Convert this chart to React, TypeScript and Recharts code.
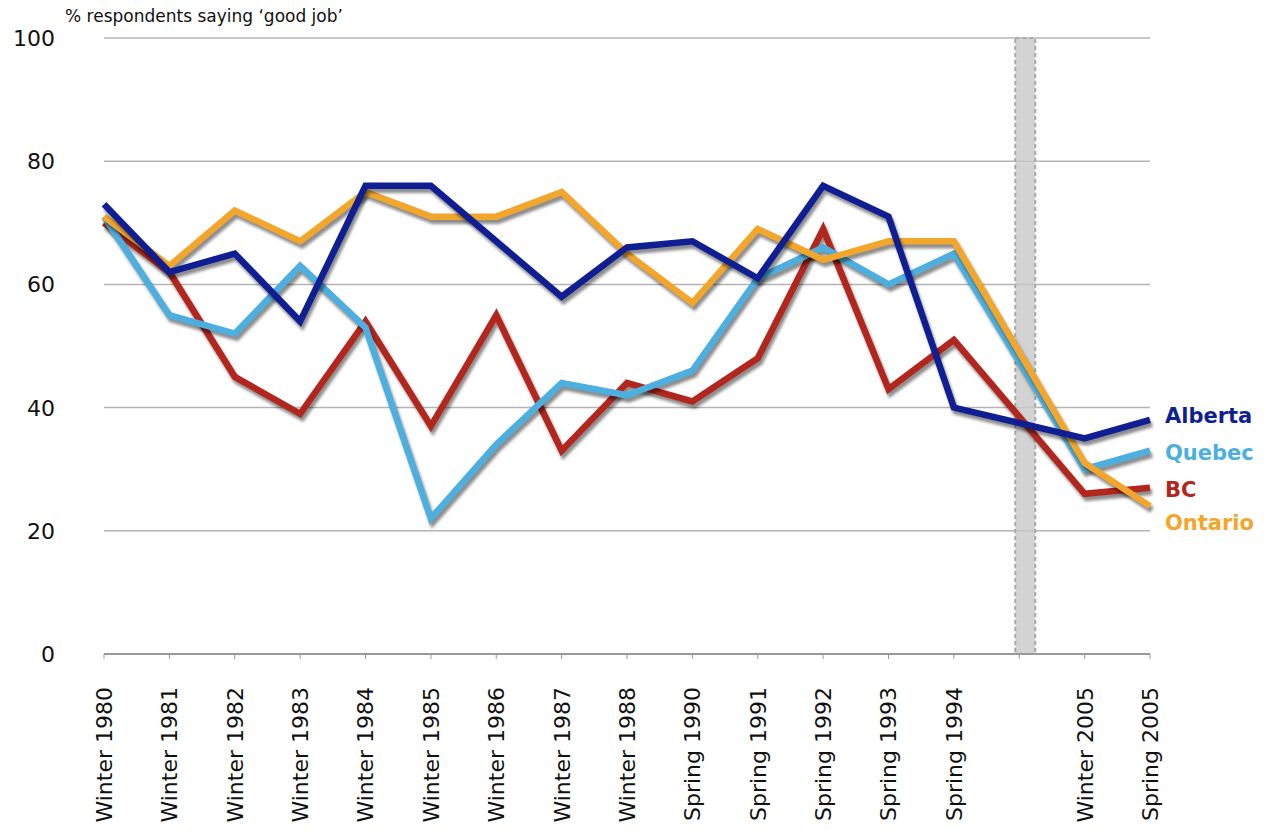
import { LineChart, Line, XAxis, YAxis, CartesianGrid, ReferenceArea } from "recharts";

// Survey periods (blank slot marks the break in the series)
const periods = [
  "Winter 1980", "Winter 1981", "Winter 1982", "Winter 1983", "Winter 1984",
  "Winter 1985", "Winter 1986", "Winter 1987", "Winter 1988", "Spring 1990",
  "Spring 1991", "Spring 1992", "Spring 1993", "Spring 1994", "",
  "Winter 2005", "Spring 2005",
];

const alberta = [73, 62, 65, 54, 76, 76, 67, 58, 66, 67, 61, 76, 71, 40, null, 35, 38];
const quebec = [71, 55, 52, 63, 53, 22, 34, 44, 42, 46, 61, 66, 60, 65, null, 30, 33];
const ontario = [71, 63, 72, 67, 75, 71, 71, 75, 65, 57, 69, 64, 67, 67, null, 31, 24];
const bc = [70, 62, 45, 39, 54, 37, 55, 33, 44, 41, 48, 69, 43, 51, null, 26, 27];

const yTicks = [0, 20, 40, 60, 80, 100];

const data = periods.map((label, i) => ({
  label,
  alberta: alberta[i],
  quebec: quebec[i],
  ontario: ontario[i],
  bc: bc[i],
}));

const series = [
  { key: "bc", name: "BC", color: "#b3261e", dy: 2 },
  { key: "quebec", name: "Quebec", color: "#4cafdf", dy: 2 },
  { key: "ontario", name: "Ontario", color: "#f2a62c", dy: 16 },
  { key: "alberta", name: "Alberta", color: "#0f1f93", dy: -4 },
];

const FONT = "'DejaVu Sans', 'Lucida Grande', sans-serif";

const XTick = (props: any) => {
  const { x, payload } = props;
  return (
    <text
      x={x}
      y={687}
      dy="0.36em"
      transform={`rotate(-90, ${x}, 687)`}
      textAnchor="end"
      fontSize={22}
      fontFamily={FONT}
      fill="#111"
    >
      {payload.value}
    </text>
  );
};

const YTick = (props: any) => {
  const { y, payload } = props;
  return (
    <text x={55} y={y} dy="0.36em" textAnchor="end" fontSize={22} fontFamily={FONT} fill="#111">
      {payload.value}
    </text>
  );
};

const Band = (props: any) => {
  const { x, y, height } = props;
  return (
    <rect
      x={x - 4}
      y={y}
      width={20}
      height={height}
      fill="#c8c8c8"
      fillOpacity={0.8}
      stroke="#a8a8a8"
      strokeWidth={2}
      strokeDasharray="4 3"
    />
  );
};

const endLabel = (name: string, color: string, dy: number) => (p: any) => {
  if (p.index !== periods.length - 1) return null;
  return (
    <text
      key={name}
      x={1165}
      y={p.y + dy}
      dy="0.36em"
      fontSize={21}
      fontWeight="bold"
      fontFamily={FONT}
      fill={color}
    >
      {name}
    </text>
  );
};

export default function App() {
  return (
    <div style={{ position: "absolute", left: 0, top: 0, background: "#fff" }}>
      <style>{`.recharts-line .recharts-curve { filter: drop-shadow(2px 4px 1.5px rgba(0,0,0,0.45)); }`}</style>
      <div
        style={{
          position: "absolute",
          left: 65,
          top: 6,
          fontSize: 17,
          fontFamily: FONT,
          color: "#111",
          whiteSpace: "nowrap",
        }}
      >
        % respondents saying ‘good job’
      </div>
      <LineChart
        width={1264}
        height={831}
        data={data}
        margin={{ top: 38, right: 114, bottom: 0, left: 0 }}
      >
        <CartesianGrid vertical={false} stroke="#b4b4b4" strokeWidth={1.5} />
        <XAxis
          dataKey="label"
          interval={0}
          height={177}
          tick={XTick}
          tickSize={5}
          tickLine={{ stroke: "#999" }}
          axisLine={{ stroke: "#999", strokeWidth: 2 }}
        />
        <YAxis
          width={104}
          domain={[0, 100]}
          ticks={yTicks}
          tick={YTick}
          axisLine={false}
          tickLine={false}
        />
        {series.map((s) => (
          <Line
            key={s.key}
            type="linear"
            dataKey={s.key}
            name={s.name}
            stroke={s.color}
            strokeWidth={6.5}
            dot={false}
            activeDot={false}
            connectNulls
            isAnimationActive={false}
            label={endLabel(s.name, s.color, s.dy)}
          />
        ))}
        <ReferenceArea x1="" x2="" y1={0} y2={100} shape={Band} ifOverflow="visible" />
      </LineChart>
    </div>
  );
}
